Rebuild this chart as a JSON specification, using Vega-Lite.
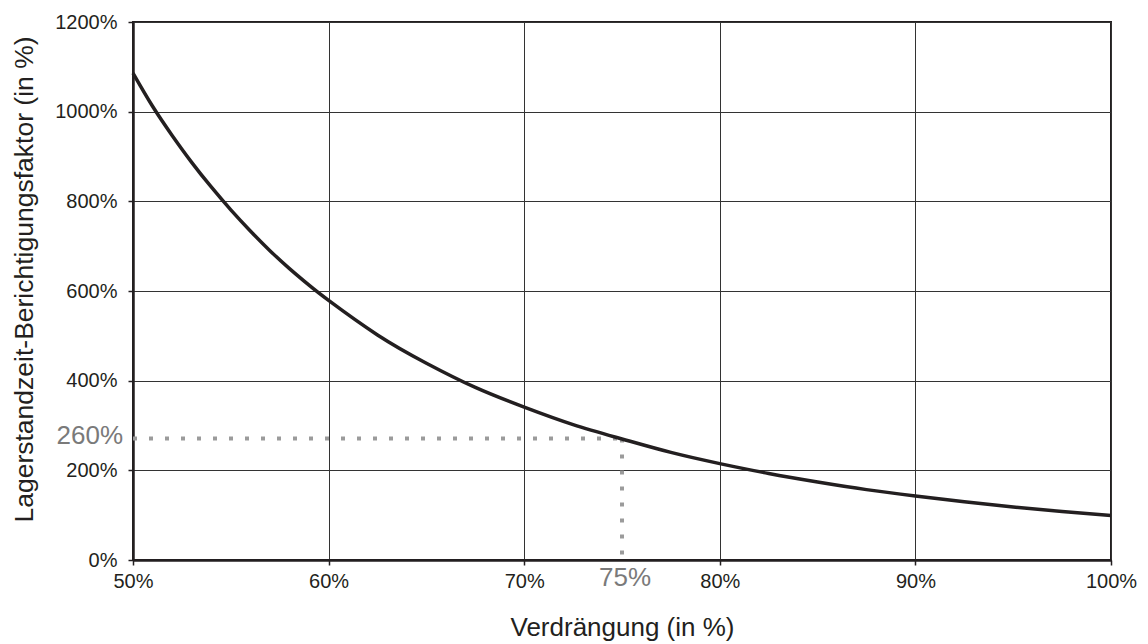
{
  "$schema": "https://vega.github.io/schema/vega-lite/v6.json",
  "width": 978,
  "height": 538,
  "autosize": {"type": "none"},
  "padding": {"left": 133, "top": 22, "right": 37, "bottom": 84},
  "background": "white",
  "config": {
    "font": "Liberation Sans",
    "view": {"stroke": "#231f20", "strokeWidth": 2},
    "axis": {
      "labelFont": "Liberation Sans",
      "titleFont": "Liberation Sans",
      "labelColor": "#231f20",
      "titleColor": "#231f20",
      "titleFontWeight": "normal",
      "domainColor": "#231f20",
      "domainWidth": 2.5,
      "tickColor": "#231f20",
      "tickWidth": 1.5,
      "tickSize": 5,
      "gridColor": "#333333",
      "gridWidth": 1
    }
  },
  "datasets": {
    "curve": [
      {"pct": 50, "factor": 1086},
      {"pct": 51, "factor": 1012},
      {"pct": 52, "factor": 947},
      {"pct": 53, "factor": 887},
      {"pct": 54, "factor": 832},
      {"pct": 55, "factor": 781},
      {"pct": 56, "factor": 734},
      {"pct": 57, "factor": 690},
      {"pct": 58, "factor": 650},
      {"pct": 59, "factor": 613},
      {"pct": 60, "factor": 579},
      {"pct": 62.5, "factor": 502},
      {"pct": 65, "factor": 439},
      {"pct": 67.5, "factor": 385},
      {"pct": 70, "factor": 341},
      {"pct": 72.5, "factor": 302},
      {"pct": 75, "factor": 270},
      {"pct": 77.5, "factor": 240},
      {"pct": 80, "factor": 215},
      {"pct": 82.5, "factor": 193},
      {"pct": 85, "factor": 174},
      {"pct": 87.5, "factor": 157},
      {"pct": 90, "factor": 143},
      {"pct": 92.5, "factor": 130},
      {"pct": 95, "factor": 118},
      {"pct": 97.5, "factor": 108},
      {"pct": 100, "factor": 99}
    ],
    "hline": [{"x": 50, "x2": 75, "y": 271}],
    "vline": [{"x": 75, "y": 0, "y2": 271}],
    "ylab": [{"x": 50, "y": 271, "label": "260%"}],
    "xlab": [{"x": 75, "y": 0, "label": "75%"}]
  },
  "layer": [
    {
      "data": {"name": "hline"},
      "mark": {"type": "rule", "color": "#9b9b9b", "strokeWidth": 4, "strokeDash": [4, 12], "strokeCap": "butt"},
      "encoding": {
        "x": {
          "field": "x",
          "type": "quantitative",
          "scale": {"domain": [50, 100], "nice": false, "zero": false},
          "axis": {
            "values": [50, 60, 70, 80, 90, 100],
            "labelExpr": "datum.value + '%'",
            "labelFontSize": 20,
            "labelPadding": 6,
            "labelFlush": false,
            "title": "Verdrängung (in %)",
            "titleFontSize": 26,
            "titleBaseline": "alphabetic",
            "titleY": 75
          }
        },
        "x2": {"field": "x2"},
        "y": {
          "field": "y",
          "type": "quantitative",
          "scale": {"domain": [0, 1200], "nice": false},
          "axis": {
            "values": [0, 200, 400, 600, 800, 1000, 1200],
            "labelExpr": "datum.value + '%'",
            "labelFontSize": 20,
            "labelPadding": 11,
            "labelFlush": false,
            "title": "Lagerstandzeit-Berichtigungsfaktor (in %)",
            "titleFontSize": 26.5,
            "titleBaseline": "alphabetic",
            "titleX": -101,
            "titleY": 257
          }
        }
      }
    },
    {
      "data": {"name": "vline"},
      "mark": {"type": "rule", "color": "#9b9b9b", "strokeWidth": 4, "strokeDash": [4, 12], "strokeCap": "butt"},
      "encoding": {
        "x": {"field": "x", "type": "quantitative"},
        "y": {"field": "y2", "type": "quantitative"},
        "y2": {"field": "y"}
      }
    },
    {
      "data": {"name": "curve"},
      "mark": {"type": "line", "interpolate": "natural", "color": "#231f20", "strokeWidth": 3.5},
      "encoding": {
        "x": {"field": "pct", "type": "quantitative"},
        "y": {"field": "factor", "type": "quantitative"}
      }
    },
    {
      "data": {"name": "ylab"},
      "mark": {"type": "text", "color": "#7a7a7a", "fontSize": 26, "align": "right", "baseline": "alphabetic", "dx": -10, "dy": 5, "font": "Liberation Sans"},
      "encoding": {
        "x": {"field": "x", "type": "quantitative"},
        "y": {"field": "y", "type": "quantitative"},
        "text": {"field": "label"}
      }
    },
    {
      "data": {"name": "xlab"},
      "mark": {"type": "text", "color": "#7a7a7a", "fontSize": 26, "align": "center", "baseline": "alphabetic", "dx": 3, "dy": 26, "font": "Liberation Sans"},
      "encoding": {
        "x": {"field": "x", "type": "quantitative"},
        "y": {"field": "y", "type": "quantitative"},
        "text": {"field": "label"}
      }
    }
  ]
}
